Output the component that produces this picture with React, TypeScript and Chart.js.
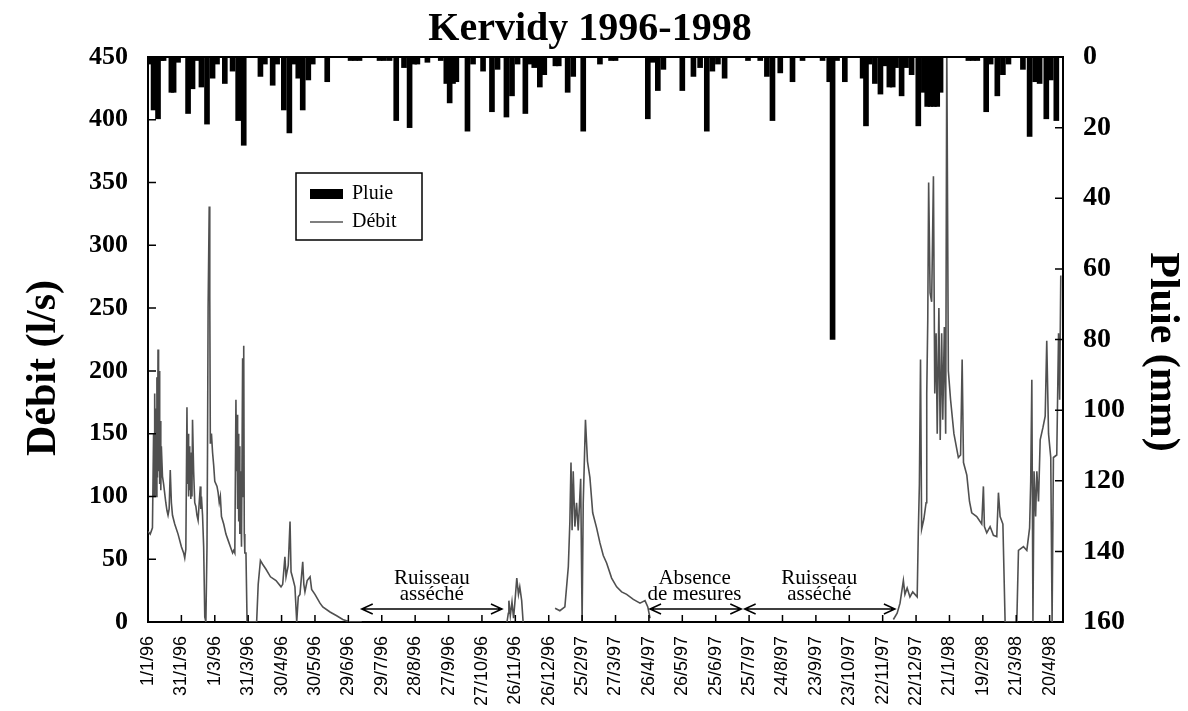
import React, { useEffect, useRef } from 'react';
import { Chart, registerables } from 'chart.js';

Chart.register(...registerables);

const TITLE = 'Kervidy 1996-1998';
const LEFT_TITLE = 'Débit (l/s)';
const RIGHT_TITLE = 'Pluie (mm)';

// x tick labels, one every 30 days
const xTickLabels = [
  '1/1/96', '31/1/96', '1/3/96', '31/3/96', '30/4/96', '30/5/96', '29/6/96',
  '29/7/96', '28/8/96', '27/9/96', '27/10/96', '26/11/96', '26/12/96', '25/2/97',
  '27/3/97', '26/4/97', '26/5/97', '25/6/97', '25/7/97', '24/8/97', '23/9/97',
  '23/10/97', '22/11/97', '22/12/97', '21/1/98', '19/2/98', '21/3/98', '20/4/98',
];

// Rain (mm), day index from 1/1/96
const rainDays = [
  2, 5, 9, 12, 14, 21, 23, 27, 36, 40, 44, 48, 53, 58, 62, 69, 76, 81, 86, 101,
  105, 112, 116, 122, 127, 131, 135, 139, 144, 148, 161, 182, 186, 190, 208, 212,
  217, 223, 230, 235, 239, 242, 251, 263, 268, 271, 274, 277, 287, 292, 301, 309,
  314, 322, 327, 332, 339, 343, 347, 352, 356, 366, 369, 377, 382, 391, 406, 416,
  420, 449, 453, 458, 463, 480, 490, 496, 502, 507, 512, 518, 539, 550, 556, 561,
  568, 579, 588, 606, 612, 615, 619, 626, 642, 645, 648, 653, 658, 662, 666, 669,
  672, 677, 681, 686, 692, 697, 700, 703, 706, 709, 712, 737, 741, 745, 753, 757,
  763, 768, 773, 786, 792, 797, 801, 807, 811, 816,
];
const rainMm = [
  2, 15, 17.5, 1, 1, 10, 10, 1.5, 16, 9, 1, 8.5, 19, 6, 2, 7.5, 4, 18, 25, 5.5,
  2, 8, 2, 15, 21.5, 2, 6, 15, 6.5, 2, 7, 1, 1, 1, 1, 1,
  1, 18, 3, 20, 2, 2, 1.5, 1, 7.5, 13, 7.5, 7, 21, 2, 4, 15.5,
  3.5, 17, 11, 2, 16, 2, 3, 8.5, 5, 2.5, 2.5, 10, 5.5, 21, 2, 1,
  1, 17.5, 1.5, 9.5, 3.5, 9.5, 5.5, 3, 21, 4, 2, 6, 1, 1, 5.5, 18,
  4.5, 7, 1, 1, 7, 80, 1, 7, 6, 19.5, 2, 7.5, 10.5, 2.5, 8.5, 8.5,
  3, 11, 3, 5, 19.5, 10, 14, 14, 14, 14, 10, 1, 1, 1, 15.5, 2,
  11, 5, 2, 3.5, 22.5, 7, 7.5, 17.5, 6.5, 18,
];

// Discharge (l/s); null = no data (gap in line)
const flowDays = [
  0, 2, 4, 5, 5.5, 6, 6.5, 7, 7.5, 8, 8.5, 9, 9.5, 10, 10.5, 11, 11.5, 12, 13, 14,
  16, 17, 18, 19, 20, 21, 22, 24, 27, 30, 32, 33, 34, 35, 35.5, 36, 36.5, 37, 37.5, 38,
  38.5, 39, 39.5, 40, 41, 42, 43, 44, 45, 46, 47, 47.5, 48, 49, 50, 51, 52, 53, 53.5, 54,
  55, 55.5, 56, 57, 58, 59, 60, 62, 63, 64, 65, 66, 68, 70, 72, 74, 76, 77, 78, 79,
  79.5, 80, 80.5, 81, 81.5, 82, 82.5, 83, 84, 85, 85.5, 86, 86.5, 87, 88, 89, 97.6, 99, 101, 103,
  106, 110, 115, 119.5, 121, 123, 124, 126, 127.6, 128.5, 130, 132, 133.6, 135, 136.5, 139, 140, 141, 143, 145.6,
  147, 150, 154.5, 157, 163.5, 169.5, 175, 181.5, 192, 193,
  321, 322.5, 323.7, 324.2, 325.5, 327, 328.4, 330, 331.3, 332.8, 334, 335.7, 337, 338,
  365.7, 370, 374.5, 377.6, 379, 380, 381, 382, 383.5, 385, 386.5, 388.7, 390, 391, 393, 394.8, 397, 399.5, 403, 406,
  409, 412, 416.5, 421, 425.5, 430, 436, 442, 446.5, 449, 451, 452,
  669, 669.6, 673, 675.6, 678.6, 680, 682, 684.5, 687, 691, 692, 693, 694, 695, 697, 699, 699.6, 700.5, 701.3, 702.6,
  704, 705.6, 706.8, 708, 709, 710.5, 711.7, 713, 714, 715.4, 716.6, 717.6, 719, 721, 724, 728, 730, 731.4, 732.6, 735.6,
  738, 740, 744.5, 749, 750.5, 751.4, 753.5, 756.5, 759.5, 762.5, 764, 765.5, 768, 770, 780.5, 782, 786.5, 789.5, 792, 793,
  794, 795, 796, 797.4, 798.5, 800, 801.5, 804, 806, 807.4, 809, 811, 812.2, 813.4, 816.4, 818, 819, 820,
];
const flowValues = [
  72, 70, 75, 150, 100, 182, 110, 170, 100, 195, 115, 217, 120, 200, 110, 160, 105, 140, 116, 110,
  95, 89, 85, 90, 121, 95, 85, 78, 70, 60, 55, 51, 58, 171, 110, 150, 100, 140, 105, 130,
  98, 135, 100, 161, 120, 95, 92, 85, 81, 95, 108, 90, 100, 85, 60, 4, 0, 60, 142, 250,
  331, 260, 142, 150, 135, 125, 112, 108, 103, 95, 100, 84, 78, 70, 65, 60, 55, 57, 55, 177,
  120, 165, 90, 150, 80, 140, 70, 120, 60, 210, 100, 220, 70, 55, 55, 0, 0, 30, 49, 46,
  42, 36, 33, 28, 30, 52, 36, 45, 80, 40, 35, 28, 0, 20, 22, 48, 30, 24, 33, 36,
  26, 22, 15, 12, 8, 5, 2, 0, 0, null,
  null, 0, 7, 17, 5, 16, 3, 20, 35, 22, 28, 17, 0, null,
  11, 9, 12, 44, 80, 127, 73, 120, 76, 95, 73, 114, 0, 95, 161, 128, 115, 87, 75, 63,
  53, 47, 35, 28, 24, 22, 18, 15, 17, 12, 3, null,
  null, 2, 7, 15, 33, 22, 27, 20, 24, 20, 71, 110, 209, 74, 82, 95, 182, 240, 350, 262,
  255, 355, 182, 230, 150, 250, 145, 230, 161, 235, 150, 460, 200, 177, 150, 131, 133, 209, 127, 117,
  96, 87, 84, 78, 108, 76, 71, 76, 69, 68, 103, 84, 78, 0, 0, 57, 60, 57, 75, 112,
  193, 0, 120, 84, 120, 96, 145, 155, 164, 224, 150, 131, 0, 131, 133, 230, 177, 276,
];

// Annotations: [centre day, text line 1, text line 2, arrow start day, arrow end day]
const annotations: [number, string, string, number, number][] = [
  [255, 'Ruisseau', 'asséché', 192, 318],
  [491, 'Absence', 'de mesures', 451, 533],
  [603, 'Ruisseau', 'asséché', 536, 671],
];

const SERIF = '"Liberation Serif", "Times New Roman", serif';
const SANS = '"Liberation Sans", Arial, sans-serif';

const overlay = {
  id: 'overlay',
  afterDraw(chart: any) {
    const { ctx, chartArea: a, scales } = chart;
    const xs = scales.x;
    const ys = scales.y;
    const y2 = scales.y2;
    ctx.save();
    ctx.strokeStyle = '#000';
    ctx.fillStyle = '#000';
    // frame top
    ctx.lineWidth = 2;
    ctx.beginPath();
    ctx.moveTo(a.left, a.top);
    ctx.lineTo(a.right, a.top);
    ctx.stroke();
    // inner tick marks
    ctx.lineWidth = 1.5;
    ctx.beginPath();
    ys.ticks.forEach((t: any) => {
      const p = ys.getPixelForValue(t.value);
      ctx.moveTo(a.left, p);
      ctx.lineTo(a.left + 8, p);
    });
    y2.ticks.forEach((t: any) => {
      const p = y2.getPixelForValue(t.value);
      ctx.moveTo(a.right, p);
      ctx.lineTo(a.right - 8, p);
    });
    xs.ticks.forEach((t: any) => {
      const p = xs.getPixelForValue(t.value);
      ctx.moveTo(p, a.bottom);
      ctx.lineTo(p, a.bottom - 7);
    });
    ctx.stroke();

    // title
    ctx.font = `bold 40px ${SERIF}`;
    ctx.textAlign = 'center';
    ctx.textBaseline = 'middle';
    ctx.fillText(TITLE, 590, 30);

    // axis titles
    ctx.font = `bold 42px ${SERIF}`;
    ctx.save();
    ctx.translate(44, 368);
    ctx.rotate(-Math.PI / 2);
    ctx.fillText(LEFT_TITLE, 0, 0);
    ctx.restore();
    ctx.save();
    ctx.translate(1162, 352);
    ctx.rotate(Math.PI / 2);
    ctx.fillText(RIGHT_TITLE, 0, 0);
    ctx.restore();

    // legend
    ctx.lineWidth = 1.5;
    ctx.strokeRect(296, 173, 126, 67);
    ctx.fillRect(310, 189, 33, 10);
    ctx.strokeStyle = '#555';
    ctx.lineWidth = 1.3;
    ctx.beginPath();
    ctx.moveTo(310, 222);
    ctx.lineTo(343, 222);
    ctx.stroke();
    ctx.font = `20px ${SERIF}`;
    ctx.textAlign = 'left';
    ctx.fillText('Pluie', 352, 194);
    ctx.fillText('Débit', 352, 222);

    // annotations
    ctx.strokeStyle = '#000';
    ctx.lineWidth = 1.5;
    annotations.forEach(([cx, l1, l2, d1, d2]) => {
      const px = xs.getPixelForValue(cx);
      ctx.font = `21px ${SERIF}`;
      ctx.textAlign = 'center';
      ctx.fillText(l1, px, 578);
      ctx.fillText(l2, px, 594);
      const x1 = xs.getPixelForValue(d1);
      const x2 = xs.getPixelForValue(d2);
      const yy = 609;
      ctx.beginPath();
      ctx.moveTo(x1, yy);
      ctx.lineTo(x2, yy);
      ctx.moveTo(x1 + 11, yy - 5);
      ctx.lineTo(x1, yy);
      ctx.lineTo(x1 + 11, yy + 5);
      ctx.moveTo(x2 - 11, yy - 5);
      ctx.lineTo(x2, yy);
      ctx.lineTo(x2 - 11, yy + 5);
      ctx.stroke();
    });
    ctx.restore();
  },
};

export default function App() {
  const ref = useRef<HTMLCanvasElement | null>(null);
  useEffect(() => {
    if (!ref.current) return;
    const rainData = rainDays.map((d, i) => ({ x: d, y: rainMm[i] }));
    const flowData = flowDays.map((d, i) => ({ x: d, y: flowValues[i] }));
    const chart = new Chart(ref.current, {
      type: 'bar',
      data: {
        datasets: [
          {
            type: 'line',
            label: 'Débit',
            data: flowData as any,
            yAxisID: 'y',
            borderColor: '#505050',
            borderWidth: 1.6,
            pointRadius: 0,
            tension: 0,
            spanGaps: false,
            order: 0,
          } as any,
          {
            type: 'bar',
            label: 'Pluie',
            data: rainData as any,
            yAxisID: 'y2',
            backgroundColor: '#000',
            barThickness: 5,
            grouped: false,
            order: 1,
          } as any,
        ],
      },
      options: {
        responsive: false,
        animation: false,
        layout: { padding: { top: 57, left: 0, right: 0, bottom: 0 } },
        plugins: { legend: { display: false }, tooltip: { enabled: false } },
        scales: {
          x: {
            type: 'linear',
            offset: false,
            min: 0,
            max: 822,
            grid: { display: false, offset: false },
            border: { display: true, color: '#000', width: 2 },
            afterBuildTicks: (s: any) => {
              s.ticks = xTickLabels.map((_, i) => ({ value: i * 30 }));
            },
            afterFit: (s: any) => { s.height = 89; },
            ticks: {
              autoSkip: false,
              minRotation: 90,
              maxRotation: 90,
              padding: 6,
              color: '#000',
              font: { family: SANS, size: 18 },
              callback: (v: any) => xTickLabels[Math.round(Number(v) / 30)] ?? '',
            },
          },
          y: {
            type: 'linear',
            position: 'left',
            min: 0,
            max: 450,
            grid: { display: false },
            border: { display: true, color: '#000', width: 2 },
            afterFit: (s: any) => { s.width = 148; },
            ticks: {
              stepSize: 50,
              padding: 12,
              color: '#000',
              font: { family: SERIF, size: 26, weight: 'bold' },
            },
          },
          y2: {
            type: 'linear',
            position: 'right',
            min: 0,
            max: 160,
            reverse: true,
            grid: { display: false },
            border: { display: true, color: '#000', width: 2 },
            afterFit: (s: any) => { s.width = 125; },
            ticks: {
              stepSize: 20,
              padding: 12,
              color: '#000',
              font: { family: SERIF, size: 28, weight: 'bold' },
            },
          },
        },
      },
      plugins: [overlay],
    });
    return () => chart.destroy();
  }, []);
  return (
    <div style={{ position: 'absolute', left: 0, top: 0, width: 1188, height: 711, background: '#fff' }}>
      <canvas ref={ref} width={1188} height={711} />
    </div>
  );
}
